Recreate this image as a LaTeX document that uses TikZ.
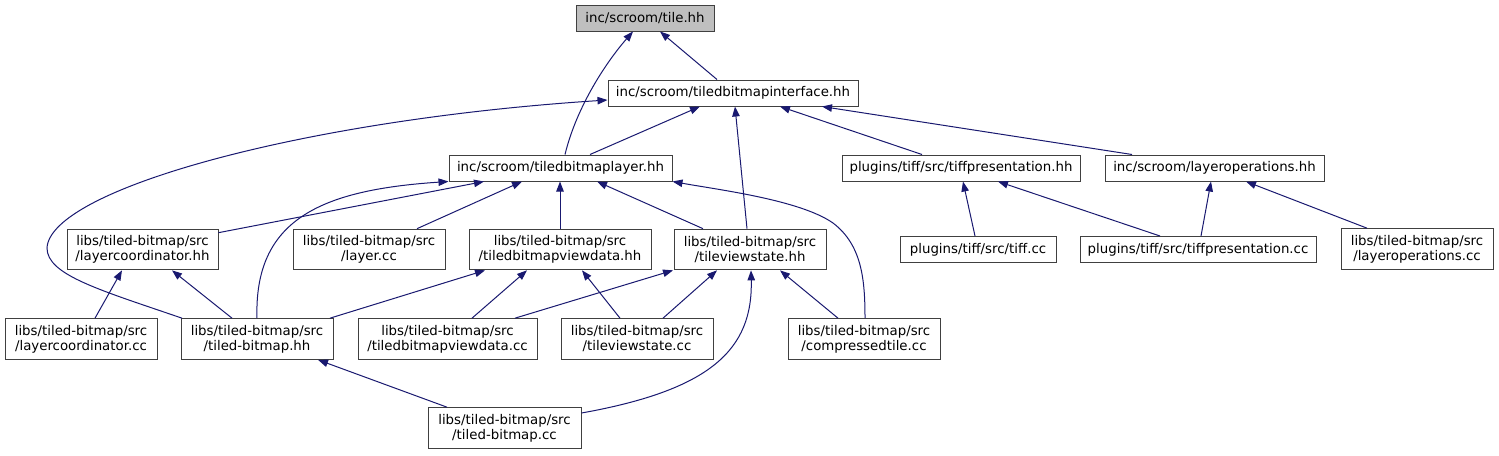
\documentclass[tikz,border=0pt]{standalone}
\usepackage{fontspec}
\setmainfont{DejaVu Sans}
\usetikzlibrary{arrows.meta,calc}
\definecolor{edgeblue}{HTML}{191970}
\definecolor{nodegray}{HTML}{BFBFBF}
\definecolor{borderc}{HTML}{404040}
\begin{document}
\begin{tikzpicture}[x=0.75pt,y=-0.75pt,
  box/.style={draw=borderc,line width=0.75pt,fill=white,inner sep=0pt,align=center,
    font=\fontsize{10}{11.3}\selectfont},
  one/.style={box,minimum height=19.5pt},
  two/.style={box,minimum height=30.5pt},
  edge/.style={draw=edgeblue,line width=0.75pt,-{Triangle[length=7.5pt,width=5.6pt]}}]
\path[use as bounding box,fill=white] (0,0) rectangle (1499,455);
% nodes
\node[one,fill=nodegray,minimum width=103.5pt] (tile) at (645,18) {inc/scroom/tile.hh};
\node[one,minimum width=187.5pt] (iface) at (733,93) {inc/scroom/tiledbitmapinterface.hh};
\node[one,minimum width=167.25pt] (layer) at (560.5,168) {inc/scroom/tiledbitmaplayer.hh};
\node[one,minimum width=178.5pt] (tiffhh) at (961,168) {plugins/tiff/src/tiffpresentation.hh};
\node[one,minimum width=164.25pt] (layopshh) at (1214.5,168) {inc/scroom/layeroperations.hh};
\node[two,minimum width=113.25pt] (lcoordhh) at (142.5,249.5) {libs/tiled-bitmap/src\\/layercoordinator.hh};
\node[two,minimum width=114pt] (layercc) at (369,249.5) {libs/tiled-bitmap/src\\/layer.cc};
\node[two,minimum width=136.5pt] (tbvdhh) at (560,249.5) {libs/tiled-bitmap/src\\/tiledbitmapviewdata.hh};
\node[two,minimum width=114pt] (tvshh) at (750,249.5) {libs/tiled-bitmap/src\\/tileviewstate.hh};
\node[one,minimum width=117pt] (tiffcc) at (978,249.5) {plugins/tiff/src/tiff.cc};
\node[one,minimum width=177pt] (tiffprcc) at (1198,249.5) {plugins/tiff/src/tiffpresentation.cc};
\node[two,minimum width=114pt] (layopscc) at (1417,249) {libs/tiled-bitmap/src\\/layeroperations.cc};
\node[two,minimum width=114pt] (lcoordcc) at (81,339) {libs/tiled-bitmap/src\\/layercoordinator.cc};
\node[two,minimum width=114pt] (tbhh) at (257,339) {libs/tiled-bitmap/src\\/tiled-bitmap.hh};
\node[two,minimum width=134.25pt] (tbvdcc) at (447.5,339) {libs/tiled-bitmap/src\\/tiledbitmapviewdata.cc};
\node[two,minimum width=114pt] (tvscc) at (637,339) {libs/tiled-bitmap/src\\/tileviewstate.cc};
\node[two,minimum width=114pt] (ctcc) at (864,339) {libs/tiled-bitmap/src\\/compressedtile.cc};
\node[two,minimum width=114.75pt] (tbcc) at (504.5,428) {libs/tiled-bitmap/src\\/tiled-bitmap.cc};
% edges
\draw[edge] ($(iface.north)+(-16,0)$) -- ($(tile.south)+(15,0)$);
\draw[edge] ($(layer.north)+(4.5,0)$) .. controls (577,105) and (608,60) .. ($(tile.south)+(-12,0)$);
\draw[edge] ($(layer.north)+(29.5,0)$) -- ($(iface.south)+(-33,0)$);
\draw[edge] ($(tvshh.north)+(-3,0)$) -- ($(iface.south)+(2,0)$);
\draw[edge] ($(tiffhh.north)+(-39,0)$) -- ($(iface.south)+(47,0)$);
\draw[edge] ($(layopshh.north)+(-82.5,0)$) -- ($(iface.south)+(89,0)$);
\draw[edge] ($(tbhh.north)+(-75,0)$) .. controls (100,290) and (47,275) .. (47,248)
  .. controls (50,190) and (300,120) .. ($(iface.west)+(0,7)$);
\draw[edge] ($(lcoordhh.north east)+(0,4)$) -- ($(layer.south)+(-76.5,0)$);
\draw[edge] (tbhh.north) .. controls (254,220) and (320,190) .. (layer.south west);
\draw[edge] ($(layercc.north)+(48,0)$) -- ($(layer.south)+(-38.5,0)$);
\draw[edge] (tbvdhh.north) -- ($(layer.south)+(-0.5,0)$);
\draw[edge] ($(tvshh.north)+(-47,0)$) -- ($(layer.south)+(36.5,0)$);
\draw[edge] ($(ctcc.north)+(1,0)$) .. controls (865,280) and (862,245) .. (833,223)
  .. controls (800,200) and (720,190) .. (layer.south east);
\draw[edge] ($(tbhh.north)+(73,0)$) -- ($(tbvdhh.south)+(-75,0)$);
\draw[edge] ($(tbvdcc.north)+(24.5,0)$) -- ($(tbvdhh.south)+(-33,0)$);
\draw[edge] ($(tvscc.north)+(-17,0)$) -- ($(tbvdhh.south)+(22,0)$);
\draw[edge] ($(tbvdcc.north)+(67.5,0)$) -- ($(tvshh.south)+(-77,0)$);
\draw[edge] ($(tvscc.north)+(26,0)$) -- ($(tvshh.south)+(-33,0)$);
\draw[edge] ($(tbcc.east)+(0,-15)$) .. controls (710,390) and (753,350) .. ($(tvshh.south)+(1,0)$);
\draw[edge] ($(ctcc.north)+(-26,0)$) -- ($(tvshh.south)+(30,0)$);
\draw[edge] ($(lcoordcc.north)+(14,0)$) -- ($(lcoordhh.south)+(-20.5,0)$);
\draw[edge] ($(tbhh.north)+(-25,0)$) -- ($(lcoordhh.south)+(29.5,0)$);
\draw[edge] ($(tbcc.north)+(-57.5,0)$) -- ($(tbhh.south)+(61,0)$);
\draw[edge] ($(tiffcc.north)+(-3,0)$) -- ($(tiffhh.south)+(2,0)$);
\draw[edge] ($(tiffprcc.north)+(-38,0)$) -- ($(tiffhh.south)+(37,0)$);
\draw[edge] ($(tiffprcc.north)+(3,0)$) -- ($(layopshh.south)+(-3.5,0)$);
\draw[edge] ($(layopscc.north)+(-50,0)$) -- ($(layopshh.south)+(31.5,0)$);
\end{tikzpicture}
\end{document}
